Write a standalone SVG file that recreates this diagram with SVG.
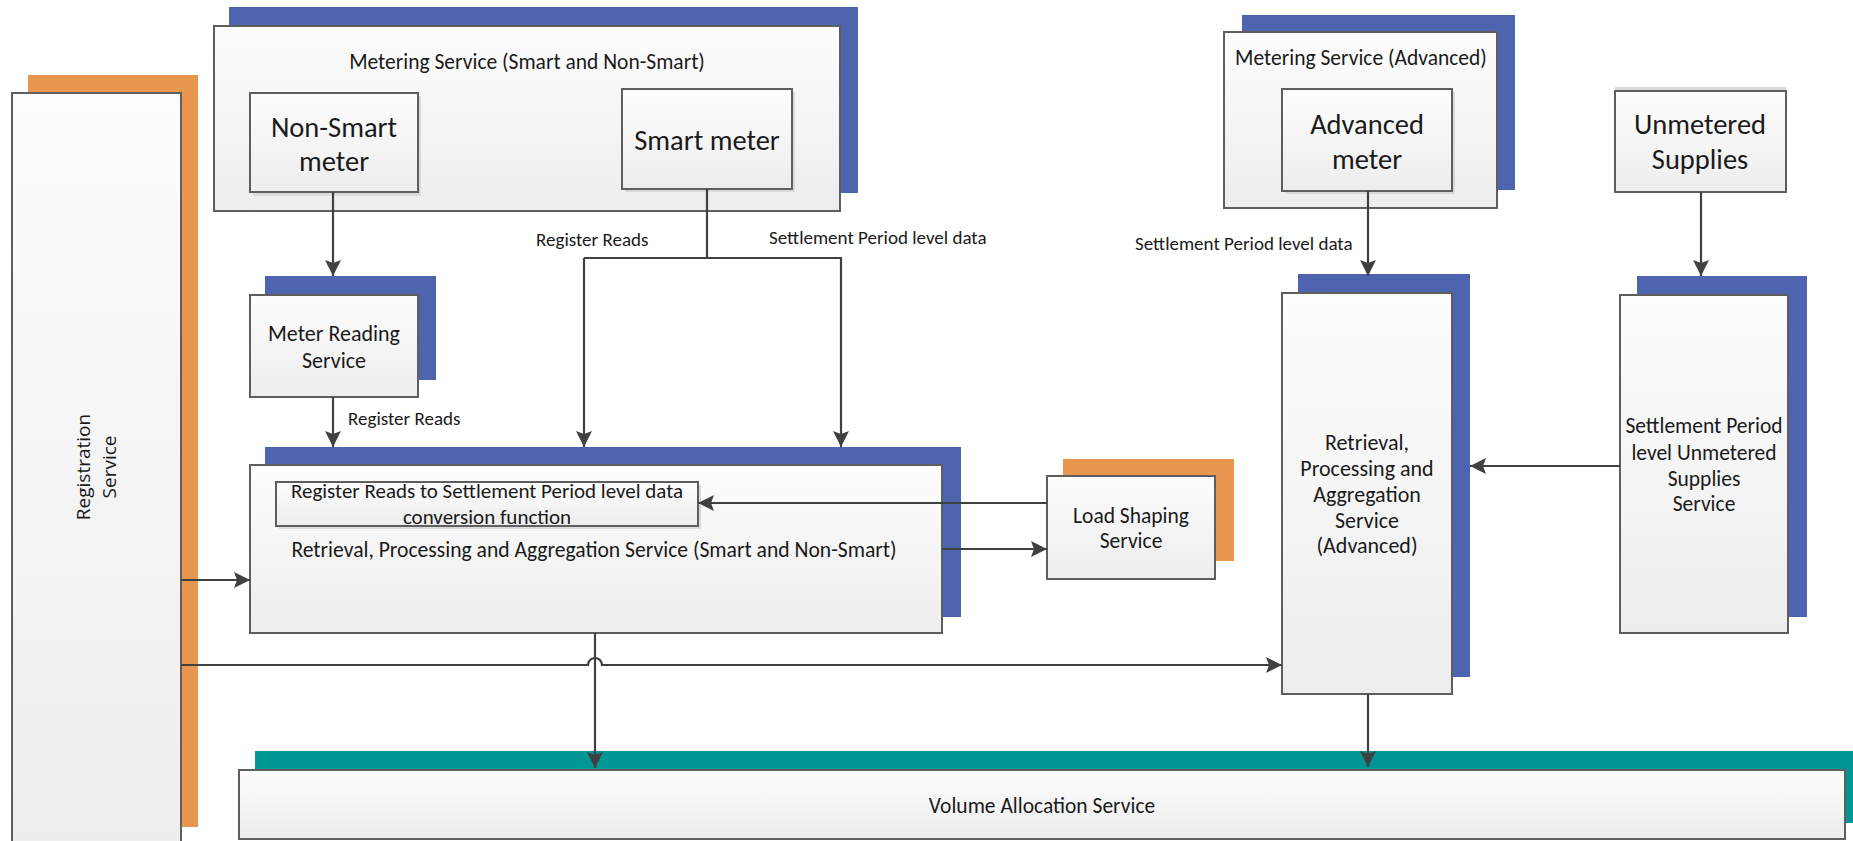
<svg xmlns="http://www.w3.org/2000/svg" width="1853" height="841" viewBox="0 0 1853 841">
<defs>
<linearGradient id="g" x1="0" y1="0" x2="0" y2="1">
<stop offset="0" stop-color="#fdfdfd"/>
<stop offset="1" stop-color="#ededed"/>
</linearGradient>
<marker id="ah" viewBox="0 0 16 16" refX="16" refY="8" markerWidth="16" markerHeight="16" markerUnits="userSpaceOnUse" orient="auto">
<path d="M0,0 L16,8 L0,16 L3,8 z" fill="#404040"/>
</marker>
<style>
.box{fill:url(#g);stroke:#5e5e5e;stroke-width:2}
.blue{fill:#4e64ae}
.orange{fill:#e9964f}
.teal{fill:#009694}
.soft{fill:#dadada}
.t{font-family:Carlito,Lato,"Liberation Sans",sans-serif;fill:#1a1a1a;text-anchor:middle}
.l{font-family:Carlito,Lato,"Liberation Sans",sans-serif;fill:#1a1a1a;font-size:19px}
.c{fill:none;stroke:#404040;stroke-width:2.2}
.a{marker-end:url(#ah)}
</style>
</defs>

<g id="registration">
<rect class="orange" x="28" y="75" width="170" height="752"/>
<rect class="box" x="12" y="93" width="169" height="760"/>
<text font-family="'Open Sans',sans-serif" font-size="19" fill="#1a1a1a" text-anchor="middle" transform="translate(90,467) rotate(-90)">Registration</text>
<text font-family="'Open Sans',sans-serif" font-size="19" fill="#1a1a1a" text-anchor="middle" transform="translate(116,467) rotate(-90)">Service</text>
</g>

<g id="metering-smart">
<rect class="blue" x="229" y="7" width="629" height="186"/>
<rect class="box" x="214" y="26" width="626" height="185"/>
<text class="t" x="527" y="69" font-size="21.5">Metering Service (Smart and Non-Smart)</text>
</g>

<g id="non-smart-meter">
<rect class="soft" x="253" y="96" width="168" height="100"/>
<rect class="box" x="250" y="93" width="168" height="99"/>
<text class="t" x="334" y="137" font-size="28.5">Non-Smart</text>
<text class="t" x="334" y="171" font-size="28.5">meter</text>
</g>

<g id="smart-meter">
<rect class="soft" x="625" y="92" width="170" height="100"/>
<rect class="box" x="622" y="89" width="170" height="100"/>
<text class="t" x="707" y="150" font-size="28.5">Smart meter</text>
</g>

<g id="meter-reading">
<rect class="blue" x="265" y="276" width="171" height="104"/>
<rect class="box" x="250" y="295" width="168" height="102"/>
<text class="t" x="334" y="341" font-size="22">Meter Reading</text>
<text class="t" x="334" y="368" font-size="22">Service</text>
</g>

<g id="rpa-smart">
<rect class="blue" x="265" y="447" width="696" height="170"/>
<rect class="box" x="250" y="465" width="692" height="168"/>
<text class="t" x="594" y="557" font-size="21.6">Retrieval, Processing and Aggregation Service (Smart and Non-Smart)</text>
</g>

<g id="conversion-function">
<rect class="soft" x="279" y="485" width="422" height="44"/>
<rect class="box" x="276" y="482" width="422" height="44"/>
<text class="t" x="487" y="498" font-size="21">Register Reads to Settlement Period level data</text>
<text class="t" x="487" y="524" font-size="21">conversion function</text>
</g>

<g id="load-shaping">
<rect class="orange" x="1063" y="459" width="171" height="102"/>
<rect class="box" x="1047" y="476" width="168" height="103"/>
<text class="t" x="1131" y="523" font-size="21.5">Load Shaping</text>
<text class="t" x="1131" y="548" font-size="21.5">Service</text>
</g>

<g id="metering-advanced">
<rect class="blue" x="1242" y="15" width="273" height="175"/>
<rect class="box" x="1224" y="32" width="273" height="176"/>
<text class="t" x="1361" y="65" font-size="21.5">Metering Service (Advanced)</text>
</g>

<g id="advanced-meter">
<rect class="soft" x="1285" y="92" width="170" height="102"/>
<rect class="box" x="1282" y="89" width="170" height="102"/>
<text class="t" x="1367" y="134" font-size="28.5">Advanced</text>
<text class="t" x="1367" y="169" font-size="28.5">meter</text>
</g>

<g id="unmetered-supplies">
<rect class="soft" x="1615" y="87" width="171" height="4"/>
<rect class="box" x="1615" y="91" width="171" height="101"/>
<text class="t" x="1700" y="134" font-size="28.5">Unmetered</text>
<text class="t" x="1700" y="169" font-size="28.5">Supplies</text>
</g>

<g id="rpa-advanced">
<rect class="blue" x="1298" y="274" width="172" height="403"/>
<rect class="box" x="1282" y="293" width="170" height="401"/>
<text class="t" x="1367" y="450" font-size="22">Retrieval,</text>
<text class="t" x="1367" y="476" font-size="22">Processing and</text>
<text class="t" x="1367" y="502" font-size="22">Aggregation</text>
<text class="t" x="1367" y="528" font-size="22">Service</text>
<text class="t" x="1367" y="553" font-size="22">(Advanced)</text>
</g>

<g id="sp-unmetered">
<rect class="blue" x="1637" y="276" width="170" height="341"/>
<rect class="box" x="1620" y="295" width="168" height="338"/>
<text class="t" x="1704" y="433" font-size="21.5">Settlement Period</text>
<text class="t" x="1704" y="460" font-size="21.5">level Unmetered</text>
<text class="t" x="1704" y="486" font-size="21.5">Supplies</text>
<text class="t" x="1704" y="511" font-size="21.5">Service</text>
</g>

<g id="volume-allocation">
<rect class="teal" x="255" y="751" width="1600" height="72"/>
<rect class="box" x="239" y="770" width="1606" height="69"/>
<text class="t" x="1042" y="813" font-size="21.5">Volume Allocation Service</text>
</g>

<g id="connectors">
<path class="c a" d="M333,192 V276"/>
<path class="c a" d="M333,397 V447"/>
<path class="c" d="M707,189 V258"/>
<path class="c a" d="M584,258 H841 V447"/>
<path class="c a" d="M584,258 V447"/>
<path class="c a" d="M1047,503 H698"/>
<path class="c a" d="M942,549 H1047"/>
<path class="c a" d="M181,580 H250"/>
<path class="c a" d="M181,665 H588 A7,7 0 0 1 602,665 H1282"/>
<path class="c a" d="M595,633 V768"/>
<path class="c a" d="M1368,191 V276"/>
<path class="c a" d="M1701,192 V276"/>
<path class="c a" d="M1620,466 H1470"/>
<path class="c a" d="M1368,694 V767"/>
<text class="l" x="348" y="425">Register Reads</text>
<text class="l" x="536" y="246">Register Reads</text>
<text class="l" x="769" y="244">Settlement Period level data</text>
<text class="l" x="1135" y="250">Settlement Period level data</text>
</g>
</svg>
